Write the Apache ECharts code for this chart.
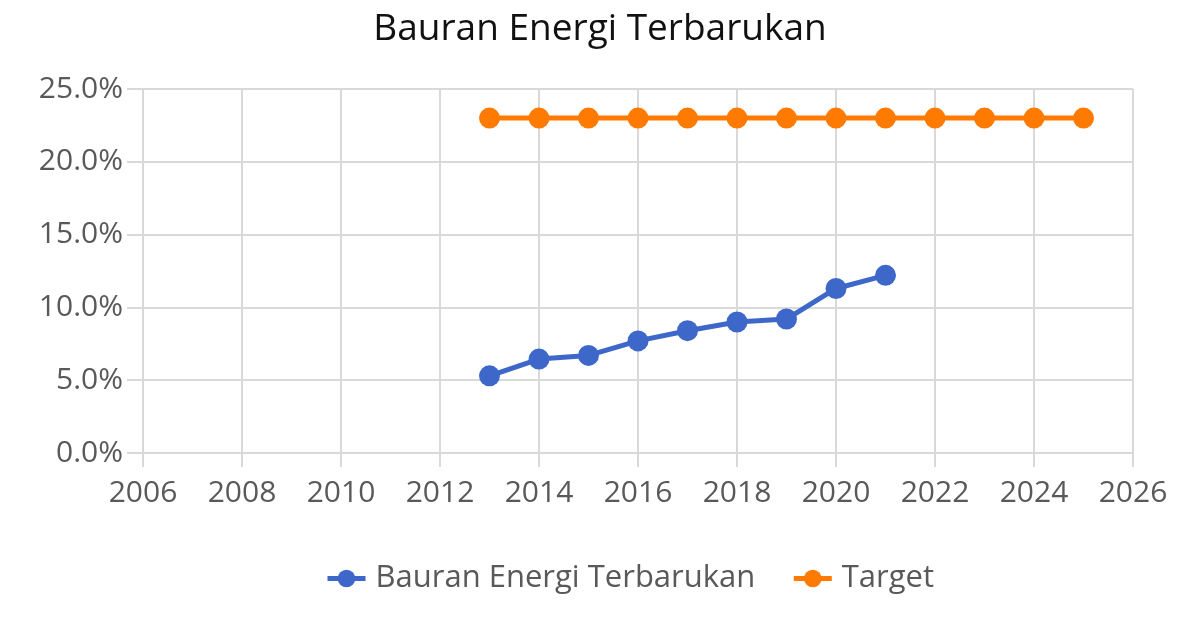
<!DOCTYPE html>
<html><head><meta charset="utf-8">
<script src="https://cdn.jsdelivr.net/npm/echarts@6/dist/echarts.min.js"></script>
<style>html,body{margin:0;padding:0;background:#fff}#c{width:1200px;height:632px}</style>
</head><body><div id="c"></div>
<script>
const years = [2013,2014,2015,2016,2017,2018,2019,2020,2021,2022,2023,2024,2025];
const bauran = [5.3,6.45,6.7,7.7,8.4,9.0,9.2,11.3,12.2];
const target = [23,23,23,23,23,23,23,23,23,23,23,23,23];
const seriesNames = ['Bauran Energi Terbarukan','Target'];
const FONT = '"Open Sans", "Noto Sans", sans-serif';
const chart = echarts.init(document.getElementById('c'));
chart.setOption({
  animation:false,
  backgroundColor:'#fff',
  title:{text:'Bauran Energi Terbarukan',left:'center',top:6,
    textStyle:{fontFamily:FONT,fontSize:37,fontWeight:'normal',color:'#111'}},
  legend:{bottom:33,left:320,itemWidth:38,itemHeight:22,itemGap:36,
    lineStyle:{width:5},
    textStyle:{fontFamily:FONT,fontSize:31,color:'#595959',padding:[0,0,0,5]},data:seriesNames},
  grid:{left:143,right:67,top:89,bottom:179,containLabel:false},
  xAxis:{type:'value',min:2006,max:2026,interval:2,
    axisLine:{show:true,lineStyle:{color:'#d9d9d9',width:2}},
    axisTick:{show:true,length:14,lineStyle:{color:'#d9d9d9',width:2}},
    splitLine:{show:true,lineStyle:{color:'#d9d9d9',width:2}},
    axisLabel:{fontFamily:FONT,fontSize:30,color:'#595959',margin:25,
      formatter:v=>String(v)}},
  yAxis:{type:'value',min:0,max:25,interval:5,
    axisLine:{show:false},
    axisTick:{show:true,length:16,lineStyle:{color:'#d9d9d9',width:2}},
    splitLine:{show:true,lineStyle:{color:'#d9d9d9',width:2}},
    axisLabel:{fontFamily:FONT,fontSize:30,color:'#595959',margin:20,
      formatter:v=>v.toFixed(1)+'%'}},
  series:[
    {name:seriesNames[0],type:'line',data:bauran.map((v,i)=>[years[i],v]),
     symbol:'circle',symbolSize:21,color:'#3d68c9',lineStyle:{width:5,color:'#3d68c9'},
     itemStyle:{color:'#3d68c9'}},
    {name:seriesNames[1],type:'line',data:target.map((v,i)=>[years[i],v]),
     symbol:'circle',symbolSize:21,color:'#ff7a00',lineStyle:{width:5,color:'#ff7a00'},
     itemStyle:{color:'#ff7a00'}}
  ]
});
</script></body></html>
